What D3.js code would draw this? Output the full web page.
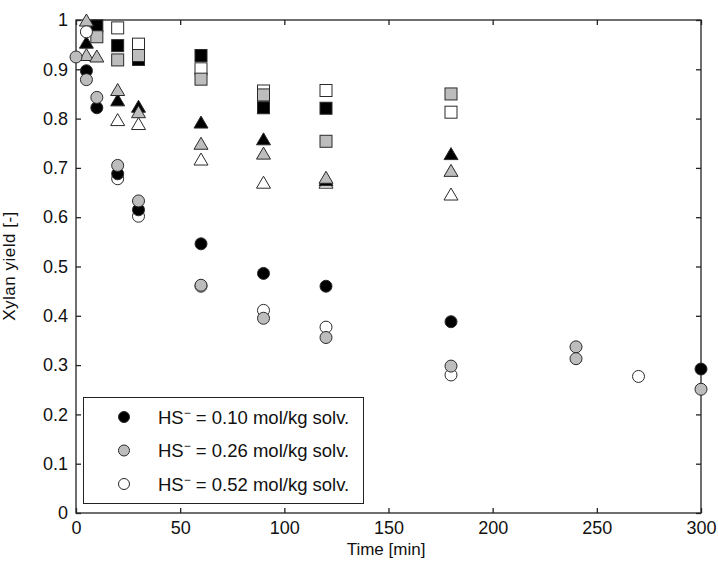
<!DOCTYPE html>
<html>
<head>
<meta charset="utf-8">
<script src="https://cdn.jsdelivr.net/npm/d3@7"></script>
<style>
  html, body { margin: 0; padding: 0; background: #fff; }
  svg { display: block; }
  text { font-family: "Liberation Sans", Arial, sans-serif; fill: #111; }
</style>
</head>
<body>
<svg id="chart" width="718" height="563"></svg>
<script>
// Xylan yield vs. cooking time at three HS- concentrations.
// Circles, squares and triangles are separate experiment sets; fill encodes [HS-].

const concentrations = ["0.10", "0.26", "0.52"];
const fills = ["#000000", "#bdbdbd", "#ffffff"];

// circles
const circleTime10 = [5, 10, 20, 30, 60, 90, 120, 180, 300];
const circleYield10 = [0.897, 0.822, 0.688, 0.615, 0.546, 0.486, 0.460, 0.388, 0.292];
const circleTime26 = [0, 5, 10, 20, 30, 60, 90, 120, 180, 240, 240, 300];
const circleYield26 = [0.925, 0.879, 0.843, 0.705, 0.633, 0.462, 0.395, 0.356, 0.298, 0.337, 0.313, 0.251];
const circleTime52 = [5, 20, 30, 60, 90, 120, 180, 270];
const circleYield52 = [0.976, 0.678, 0.602, 0.460, 0.411, 0.377, 0.280, 0.277];

// squares
const squareTime10 = [10, 20, 30, 60, 90, 120];
const squareYield10 = [0.988, 0.948, 0.920, 0.928, 0.822, 0.821];
const squareTime26 = [10, 20, 30, 60, 90, 120, 180];
const squareYield26 = [0.966, 0.919, 0.928, 0.880, 0.848, 0.754, 0.850];
const squareTime52 = [20, 30, 60, 90, 120, 180];
const squareYield52 = [0.984, 0.951, 0.901, 0.856, 0.857, 0.813];

// triangles
const triTime10 = [5, 20, 30, 60, 90, 120, 180];
const triYield10 = [0.955, 0.838, 0.825, 0.793, 0.759, 0.676, 0.729];
const triTime26 = [5, 5, 10, 20, 30, 60, 90, 120, 180];
const triYield26 = [1.0, 0.930, 0.927, 0.859, 0.814, 0.750, 0.730, 0.681, 0.695];
const triTime52 = [20, 30, 60, 90, 120, 180];
const triYield52 = [0.798, 0.790, 0.718, 0.671, 0.671, 0.647];

const xTicks = [0, 50, 100, 150, 200, 250, 300];
const yTicks = [0, 0.1, 0.2, 0.3, 0.4, 0.5, 0.6, 0.7, 0.8, 0.9, 1];

const svg = d3.select("#chart");
const plot = { left: 76, right: 701, top: 20, bottom: 513 };

const x = d3.scaleLinear().domain([0, 300]).range([plot.left, plot.right]);
const y = d3.scaleLinear().domain([0, 1]).range([plot.bottom, plot.top]);

// axes with inward ticks on all four sides
const tickLen = 5;
const axisG = svg.append("g");
axisG.append("rect")
  .attr("x", plot.left).attr("y", plot.top)
  .attr("width", plot.right - plot.left).attr("height", plot.bottom - plot.top)
  .attr("fill", "none").attr("stroke", "#222").attr("stroke-width", 1.3);

const bottomAxis = d3.axisBottom(x).tickValues(xTicks).tickSizeInner(-tickLen).tickSizeOuter(0)
  .tickPadding(8).tickFormat(d3.format("d"));
const leftAxis = d3.axisLeft(y).tickValues(yTicks).tickSizeInner(-tickLen).tickSizeOuter(0)
  .tickPadding(8).tickFormat(d => d === 0 || d === 1 ? String(d) : d3.format(".1f")(d));
const topAxis = d3.axisTop(x).tickValues(xTicks).tickSizeInner(-tickLen).tickSizeOuter(0).tickFormat("");
const rightAxis = d3.axisRight(y).tickValues(yTicks).tickSizeInner(-tickLen).tickSizeOuter(0).tickFormat("");

function styleAxis(g) {
  g.select(".domain").remove();
  g.selectAll(".tick line").attr("stroke", "#222").attr("stroke-width", 1.3);
  g.selectAll(".tick text").attr("font-size", 18).attr("fill", "#111")
    .style("font-family", '"Liberation Sans", Arial, sans-serif');
}
axisG.append("g").attr("transform", `translate(0,${plot.bottom})`).call(bottomAxis).call(styleAxis);
axisG.append("g").attr("transform", `translate(${plot.left},0)`).call(leftAxis).call(styleAxis);
axisG.append("g").attr("transform", `translate(0,${plot.top})`).call(topAxis).call(styleAxis);
axisG.append("g").attr("transform", `translate(${plot.right},0)`).call(rightAxis).call(styleAxis);

// axis titles
svg.append("text")
  .attr("x", 386).attr("y", 555)
  .attr("text-anchor", "middle").attr("font-size", 17)
  .text("Time [min]");
svg.append("text")
  .attr("transform", `translate(15,266) rotate(-90)`)
  .attr("text-anchor", "middle").attr("font-size", 17)
  .attr("letter-spacing", 0.5)
  .text("Xylan yield [-]");

// markers
const markerStroke = "#2a2a2a";
const marks = svg.append("g");

function zipSeries(times, yields) {
  return times.map((t, i) => ({ t, v: yields[i] }));
}

function drawSquares(data, fill) {
  const s = 12;
  marks.append("g").selectAll("rect").data(data).join("rect")
    .attr("x", d => x(d.t) - s / 2).attr("y", d => y(d.v) - s / 2)
    .attr("width", s).attr("height", s)
    .attr("fill", fill).attr("stroke", markerStroke).attr("stroke-width", 1);
}
function drawCircles(data, fill) {
  marks.append("g").selectAll("circle").data(data).join("circle")
    .attr("cx", d => x(d.t)).attr("cy", d => y(d.v)).attr("r", 6)
    .attr("fill", fill).attr("stroke", markerStroke).attr("stroke-width", 1);
}
function drawTriangles(data, fill) {
  const w = 14, h = 12;
  marks.append("g").selectAll("path").data(data).join("path")
    .attr("d", d => {
      const cx = x(d.t), cy = y(d.v);
      return `M${cx},${cy - h / 2}L${cx + w / 2},${cy + h / 2}L${cx - w / 2},${cy + h / 2}Z`;
    })
    .attr("fill", fill).attr("stroke", markerStroke).attr("stroke-width", 1)
    .attr("stroke-linejoin", "miter");
}

// draw order per shape: 0.52 (white), 0.10 (black), 0.26 (grey)
drawSquares(zipSeries(squareTime52, squareYield52), fills[2]);
drawSquares(zipSeries(squareTime10, squareYield10), fills[0]);
drawSquares(zipSeries(squareTime26, squareYield26), fills[1]);

drawTriangles(zipSeries(triTime52, triYield52), fills[2]);
drawTriangles(zipSeries(triTime10, triYield10), fills[0]);
drawTriangles(zipSeries(triTime26, triYield26), fills[1]);

drawCircles(zipSeries(circleTime52, circleYield52), fills[2]);
drawCircles(zipSeries(circleTime10, circleYield10), fills[0]);
drawCircles(zipSeries(circleTime26, circleYield26), fills[1]);

// legend
const legend = svg.append("g");
legend.append("rect")
  .attr("x", 83.5).attr("y", 397.5).attr("width", 280).attr("height", 106)
  .attr("fill", "#fff").attr("stroke", "#222").attr("stroke-width", 1);
const rowY = [417, 450.5, 484];
concentrations.forEach((c, i) => {
  legend.append("circle")
    .attr("cx", 124).attr("cy", rowY[i]).attr("r", 5.5)
    .attr("fill", fills[i]).attr("stroke", markerStroke).attr("stroke-width", 1);
  const t = legend.append("text")
    .attr("x", 158).attr("y", rowY[i] + 6.5).attr("font-size", 18.5);
  t.append("tspan").text("HS");
  t.append("tspan").attr("dy", -7).attr("font-size", 12).text("\u2212");
  t.append("tspan").attr("dy", 7).text(` = ${c} mol/kg solv.`);
});
</script>
</body>
</html>
